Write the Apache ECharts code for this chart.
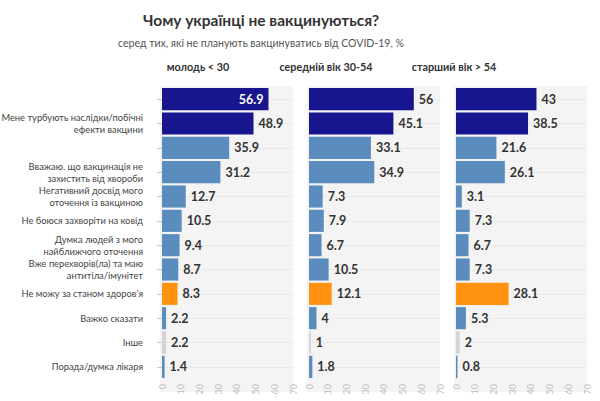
<!DOCTYPE html>
<html>
<head>
<meta charset="utf-8">
<script src="https://cdn.jsdelivr.net/npm/echarts@6/dist/echarts.min.js"></script>
<style>html,body{margin:0;padding:0;background:#fff}#c{width:600px;height:401px}</style>
</head>
<body>
<div id="c"></div>
<script>
// ---- data ----
const categories = [
  '',
  'Мене турбують наслідки/побічні\nефекти вакцини',
  ' ',
  'Вважаю. що вакцинація не\nзахистить від хвороби',
  'Негативний досвід мого\nоточення із вакциною',
  'Не боюся захворіти на ковід',
  'Думка людей з мого\nнайближчого оточення',
  'Вже перехворів(ла) та маю\nантитіла/імунітет',
  'Не можу за станом здоровʼя',
  'Важко сказати',
  'Інше',
  'Порада/думка лікаря'
];
const panelTitles = ['молодь < 30', 'середній вік 30-54', 'старший вік > 54'];
const youth  = [56.9, 48.9, 35.9, 31.2, 12.7, 10.5, 9.4, 8.7, 8.3, 2.2, 2.2, 1.4];
const middle = [56, 45.1, 33.1, 34.9, 7.3, 7.9, 6.7, 10.5, 12.1, 4, 1, 1.8];
const senior = [43, 38.5, 21.6, 26.1, 3.1, 7.3, 6.7, 7.3, 28.1, 5.3, 2, 0.8];
const xTicks = [0, 10, 20, 30, 40, 50, 60, 70];
const titleText = 'Чому українці не вакцинуються?';
const subtitleText = 'серед тих, які не планують вакцинуватись від COVID-19, %';

// ---- styling / layout ----
const colorGroup = ['navy','navy','blue','blue','blue','blue','blue','blue','orange','blue','gray','blue'];
const palette = {navy:'#17168f', blue:'#5a8dbd', orange:'#ff930f', gray:'#d4d4d4'};
const gridLefts = [162, 309, 456];
const gridWidth = 131;
const gridTop = 87, gridHeight = 292;
const titleCenters = [198, 326, 454];
const FONT = 'Lato, "Noto Sans", sans-serif';

const seriesValues = [youth, middle, senior];
const chart = echarts.init(document.getElementById('c'), null, {renderer:'svg'});

const grids = [], xAxes = [], yAxes = [], series = [], graphics = [];
gridLefts.forEach((left, i) => {
  grids.push({left: left, top: gridTop, width: gridWidth, height: gridHeight, containLabel: false, outerBoundsMode: 'none'});
  graphics.push({type:'rect', z:-10, shape:{x:left-2, y:gridTop-1, width:gridWidth+2, height:306}, style:{fill:'#f4f4f4'}});
  xAxes.push({
    type:'value', gridIndex:i, min:xTicks[0], max:xTicks[xTicks.length-1], interval:xTicks[1]-xTicks[0],
    axisLine:{show:false}, axisTick:{show:false},
    splitLine:{show:false},
    axisLabel:{rotate:90, color:'#bdbdbd', fontSize:9, fontFamily:FONT, margin:5}
  });
  yAxes.push({
    type:'category', gridIndex:i, data:categories, inverse:true,
    axisLine:{show:false},
    axisTick:{show:i===0, alignWithLabel:true, length:5, lineStyle:{color:'#cccccc'}},
    splitLine:{show:true, alignWithLabel:true, lineStyle:{color:'#e9e9e9', width:1}},
    axisLabel:{show:i===0, color:'#444', fontSize:9.3, lineHeight:12, fontFamily:FONT, margin:19, align:'right'}
  });
  series.push({
    type:'bar', xAxisIndex:i, yAxisIndex:i, barCategoryGap:'9%',
    data: seriesValues[i].map((v, k) => {
      const d = {value:v, itemStyle:{color:palette[colorGroup[k]]}};
      if (i === 0 && k === 0) d.label = {position:'insideRight', color:'#fff', distance:5};
      return d;
    }),
    label:{show:true, position:'right', distance:5, color:'#333', fontWeight:'bold', fontSize:12.5, fontFamily:FONT},
    silent:true
  });
  graphics.push({type:'text', x:titleCenters[i], y:66, style:{text:panelTitles[i], fill:'#333', font:'bold 10.8px '+FONT, textAlign:'center', textVerticalAlign:'middle'}});
});
graphics.push({type:'text', x:261, y:20, style:{text:titleText, fill:'#333', font:'bold 15.5px '+FONT, textAlign:'center', textVerticalAlign:'middle'}});
graphics.push({type:'text', x:261, y:43, style:{text:subtitleText, fill:'#555', font:'10.5px '+FONT, textAlign:'center', textVerticalAlign:'middle'}});

chart.setOption({
  animation:false,
  grid:grids, xAxis:xAxes, yAxis:yAxes, series:series, graphic:graphics
});
</script>
</body>
</html>
